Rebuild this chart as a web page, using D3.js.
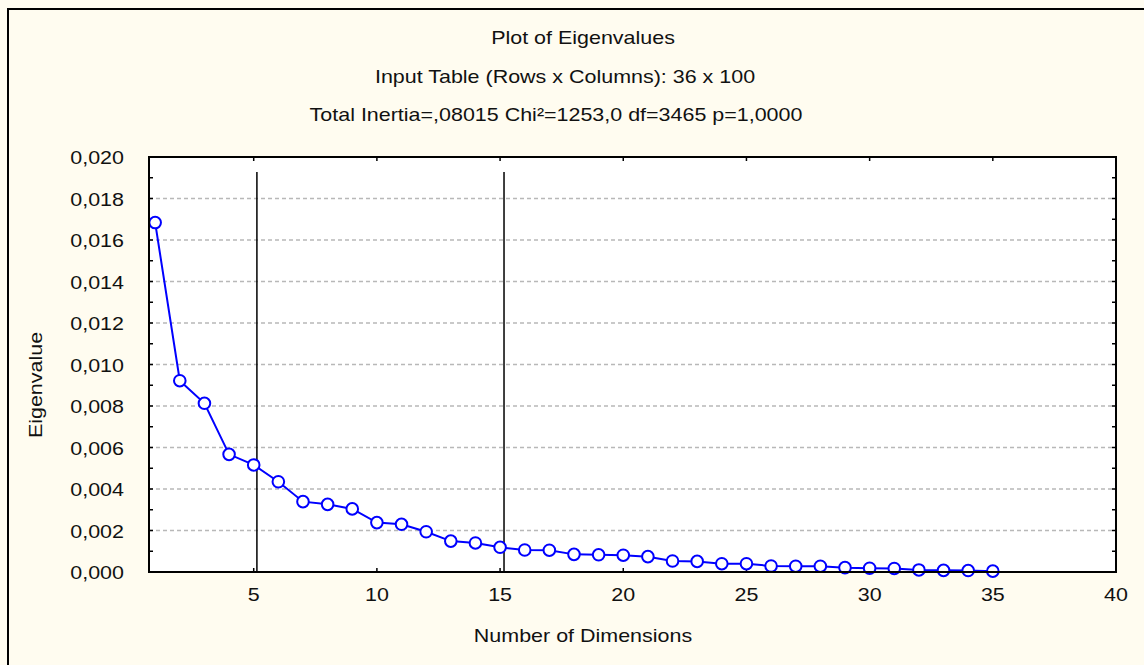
<!DOCTYPE html>
<html lang="en">
<head>
    <meta charset="UTF-8">
    <title>Plot of Eigenvalues</title>
    <script src="https://d3js.org/d3.v7.min.js"></script>
    <style>
        body { margin: 0; background: #fffcf0; }
        text { font-family: "Liberation Sans", Arial, sans-serif; fill: #111; font-size: 19px; }
    </style>
</head>
<body>
    <svg width="1144" height="665"></svg>

    <script>
        // dimension numbers and their eigenvalues
        const dims = d3.range(1, 36);
        const eigenvalues = [
            0.01684, 0.00922, 0.00813, 0.00567, 0.00516, 0.00435, 0.00339, 0.00326, 0.00304, 0.00238,
            0.00230, 0.00194, 0.00149, 0.00140, 0.00119, 0.00106, 0.00105, 0.00085, 0.00083, 0.00081,
            0.00074, 0.00053, 0.00051, 0.00040, 0.00040, 0.00029, 0.00028, 0.00028, 0.00021, 0.00018,
            0.00017, 0.00010, 0.00008, 0.00007, 0.00004
        ];
        const xTicks = [5, 10, 15, 20, 25, 30, 35, 40];
        const yTicks = d3.range(0, 0.0201, 0.002);
        const yMinor = d3.range(0, 0.0201, 0.001);
        const cutLines = [5.13, 15.16];
        const titles = [
            "Plot of Eigenvalues",
            "Input Table (Rows x Columns): 36 x 100",
            "Total Inertia=,08015 Chi²=1253,0 df=3465 p=1,0000"
        ];
        const titleX = [583, 565, 556];

        const svg = d3.select("svg");
        const margin = {top: 157, right: 28, bottom: 93, left: 149};
        const width = 1144 - margin.left - margin.right;
        const height = 665 - margin.top - margin.bottom;
        const SX = 1.13; // text in the original is a bit wide

        // text placed at (px,py) and stretched horizontally
        function put(sel, px, py) {
            return sel.attr("transform", (d, i) => {
                const xx = typeof px === "function" ? px(d, i) : px;
                const yy = typeof py === "function" ? py(d, i) : py;
                return `translate(${xx},${yy}) scale(${SX},1)`;
            });
        }

        // outer frame (only top and left edges visible)
        svg.append("path")
            .attr("d", "M8,665V9H1144")
            .attr("fill", "none")
            .attr("stroke", "#000")
            .attr("stroke-width", 2);

        put(svg.selectAll(".title")
            .data(titles)
            .enter().append("text")
            .attr("text-anchor", "middle")
            .text(d => d), (d, i) => titleX[i], (d, i) => 44 + i * 38.5);

        const x = d3.scaleLinear().domain([0.75, 40]).range([0, width]);
        const y = d3.scaleLinear().domain([0, 0.02]).range([height, 0]);
        const fmt = d => d3.format(".3f")(d).replace(".", ",");

        const g = svg.append("g")
            .attr("transform", `translate(${margin.left},${margin.top})`);

        g.append("rect")
            .attr("width", width)
            .attr("height", height)
            .attr("fill", "#fff");

        // dashed grid
        g.append("g")
            .selectAll("line")
            .data(yTicks.filter(d => d > 0.0001 && d < 0.0199))
            .enter().append("line")
            .attr("x1", 0).attr("x2", width)
            .attr("y1", d => y(d)).attr("y2", d => y(d))
            .attr("stroke", "#b8b8b8")
            .attr("stroke-width", 1.5)
            .attr("stroke-dasharray", "4,3");

        // inner ticks on all four sides
        const tick = g.append("g").attr("stroke", "#000").attr("stroke-width", 1.5);
        tick.selectAll(".yl").data(yMinor).enter().append("line")
            .attr("x1", 0).attr("x2", 4)
            .attr("y1", d => y(d)).attr("y2", d => y(d));
        tick.selectAll(".yr").data(yMinor).enter().append("line")
            .attr("x1", width).attr("x2", width - 4)
            .attr("y1", d => y(d)).attr("y2", d => y(d));
        tick.selectAll(".xb").data(xTicks).enter().append("line")
            .attr("x1", d => x(d)).attr("x2", d => x(d))
            .attr("y1", height).attr("y2", height - 4);
        tick.selectAll(".xt").data(xTicks).enter().append("line")
            .attr("x1", d => x(d)).attr("x2", d => x(d))
            .attr("y1", 0).attr("y2", 4);

        put(g.selectAll(".ylab")
            .data(yTicks)
            .enter().append("text")
            .attr("text-anchor", "end")
            .text(fmt), -25, d => y(d) + 7);

        put(g.selectAll(".xlab")
            .data(xTicks)
            .enter().append("text")
            .attr("text-anchor", "middle")
            .text(d => d), d => x(d), height + 29);

        // vertical reference lines
        g.selectAll(".cut")
            .data(cutLines)
            .enter().append("line")
            .attr("x1", d => x(d)).attr("x2", d => x(d))
            .attr("y1", 15).attr("y2", height)
            .attr("stroke", "#000")
            .attr("stroke-width", 1.5);

        const pts = dims.map((d, i) => [d, eigenvalues[i]]);

        g.append("path")
            .datum(pts)
            .attr("fill", "none")
            .attr("stroke", "#0000ff")
            .attr("stroke-width", 2)
            .attr("d", d3.line().x(d => x(d[0])).y(d => y(d[1])));

        g.selectAll(".pt")
            .data(pts)
            .enter().append("circle")
            .attr("cx", d => x(d[0]))
            .attr("cy", d => y(d[1]))
            .attr("r", 5.8)
            .attr("fill", "#fff")
            .attr("stroke", "#0000ff")
            .attr("stroke-width", 2);

        // plot border
        g.append("rect")
            .attr("width", width)
            .attr("height", height)
            .attr("fill", "none")
            .attr("stroke", "#000")
            .attr("stroke-width", 2);

        put(svg.append("text")
            .attr("text-anchor", "middle")
            .text("Number of Dimensions"), 583, 642);

        svg.append("text")
            .attr("transform", `translate(42,385) rotate(-90) scale(${SX},1)`)
            .attr("text-anchor", "middle")
            .text("Eigenvalue");
    </script>
</body>
</html>
